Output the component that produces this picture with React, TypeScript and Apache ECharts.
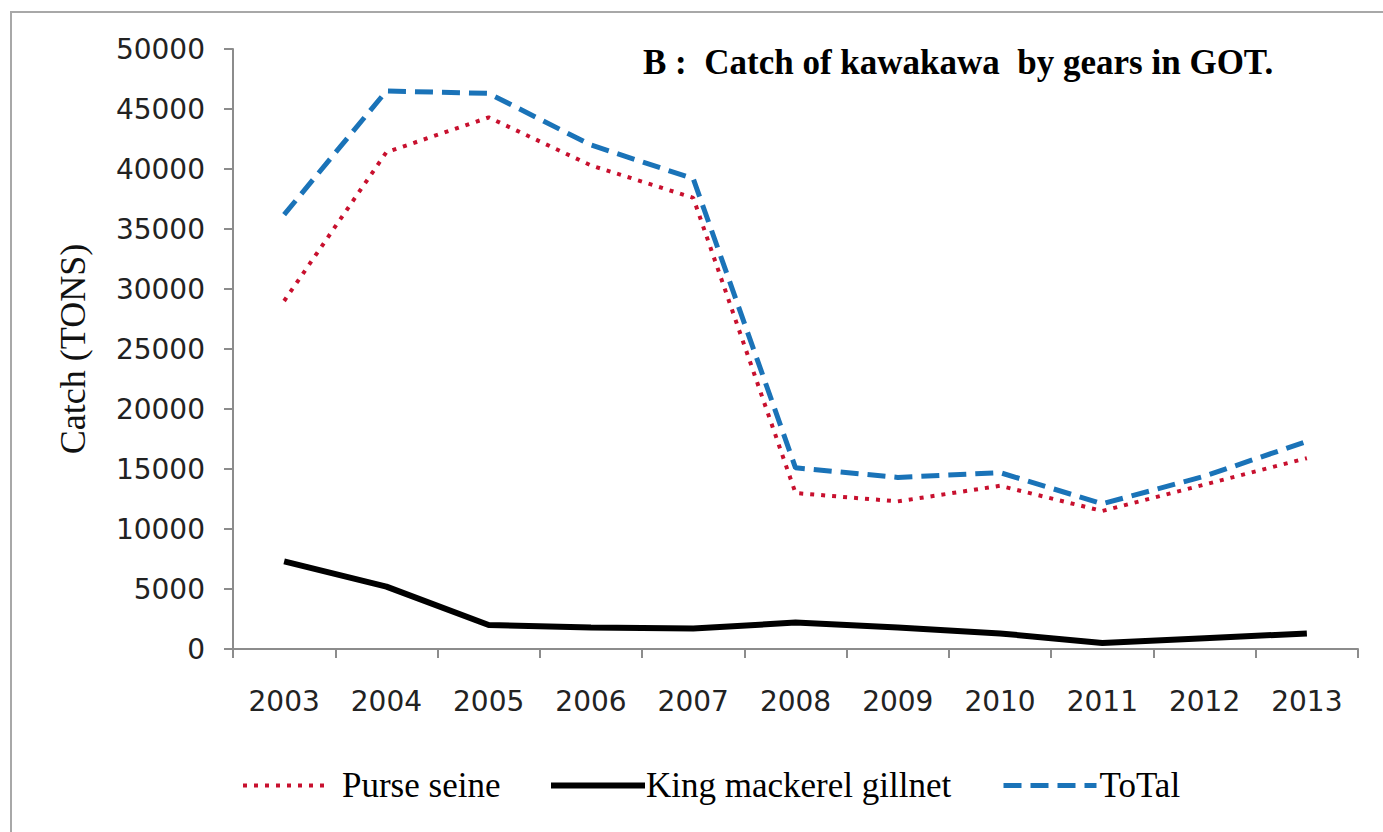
import React, { useEffect, useRef } from "react";
import * as echarts from "echarts";

const years = ["2003", "2004", "2005", "2006", "2007", "2008", "2009", "2010", "2011", "2012", "2013"];
const purseSeine = [29000, 41400, 44300, 40300, 37600, 13000, 12300, 13600, 11500, 13700, 15900];
const kingMackerelGillnet = [7300, 5200, 2000, 1800, 1700, 2200, 1800, 1300, 500, 900, 1300];
const total = [36200, 46500, 46300, 42000, 39200, 15100, 14300, 14700, 12100, 14400, 17300];

const seriesNames = ["Purse seine", "King mackerel gillnet", "ToTal"];
const titleText = "B :  Catch of kawakawa  by gears in GOT.";
const yAxisName = "Catch (TONS)";

export default function App() {
  const ref = useRef<HTMLDivElement>(null);

  useEffect(() => {
    if (!ref.current) return;
    const chart = echarts.init(ref.current, null, { renderer: "svg" });
    const serif = "'Liberation Serif', 'Times New Roman', serif";
    const sans = "'DejaVu Sans', Verdana, sans-serif";
    const legendText = { fontFamily: serif, fontSize: 35, color: "#000" };
    const legendCommon = {
      top: 763,
      itemHeight: 14,
      itemStyle: { opacity: 0 },
    };

    chart.setOption({
      animation: false,
      backgroundColor: "#fff",
      title: {
        text: titleText,
        left: 638,
        top: 40,
        textStyle: { fontFamily: serif, fontSize: 35, fontWeight: "bold", color: "#000" },
      },
      grid: { left: 233, right: 25, top: 49, bottom: 183, containLabel: false },
      legend: [
        {
          ...legendCommon,
          data: [seriesNames[0]],
          left: 236,
          itemWidth: 82,
          lineStyle: { width: 4 },
          textStyle: { ...legendText, padding: [0, 0, 0, 12] },
        },
        {
          ...legendCommon,
          data: [seriesNames[1]],
          left: 543,
          itemWidth: 94,
          lineStyle: { width: 6 },
          textStyle: { ...legendText, padding: [0, 0, 0, -4] },
        },
        {
          ...legendCommon,
          data: [seriesNames[2]],
          left: 996,
          itemWidth: 93,
          lineStyle: { width: 5 },
          textStyle: { ...legendText, padding: [0, 0, 0, -2] },
        },
      ],
      xAxis: {
        type: "category",
        data: years,
        boundaryGap: true,
        axisLine: { show: true, lineStyle: { color: "#8c8c8c", width: 2 } },
        axisTick: { show: true, length: 9, alignWithLabel: false, lineStyle: { color: "#8c8c8c", width: 2 } },
        axisLabel: { fontFamily: sans, fontSize: 28, color: "#222", margin: 38 },
        splitLine: { show: false },
      },
      yAxis: {
        type: "value",
        min: 0,
        max: 50000,
        interval: 5000,
        name: yAxisName,
        nameLocation: "middle",
        nameRotate: 90,
        nameGap: 142,
        nameTextStyle: { fontFamily: serif, fontSize: 36, color: "#111" },
        axisLine: { show: true, lineStyle: { color: "#8c8c8c", width: 2 } },
        axisTick: { show: true, length: 9, lineStyle: { color: "#8c8c8c", width: 2 } },
        axisLabel: {
          fontFamily: sans,
          fontSize: 28,
          color: "#222",
          margin: 28,
          formatter: (v: number) => String(v),
        },
        splitLine: { show: false },
      },
      graphic: [
        {
          type: "rect",
          shape: { x: 11, y: 12, width: 1420, height: 900 },
          style: { fill: "none", stroke: "#a8a8a8", lineWidth: 2 },
          silent: true,
        },
      ],
      series: [
        {
          name: seriesNames[0],
          type: "line",
          data: purseSeine,
          symbol: "none",
          itemStyle: { color: "#c8102e" },
          lineStyle: { color: "#c8102e", width: 4, type: [4, 7] },
          z: 3,
        },
        {
          name: seriesNames[1],
          type: "line",
          data: kingMackerelGillnet,
          symbol: "none",
          itemStyle: { color: "#000" },
          lineStyle: { color: "#000", width: 6 },
          z: 2,
        },
        {
          name: seriesNames[2],
          type: "line",
          data: total,
          symbol: "none",
          itemStyle: { color: "#1a73b8" },
          lineStyle: { color: "#1a73b8", width: 5, type: [18, 9] },
          z: 2,
        },
      ],
    });

    return () => chart.dispose();
  }, []);

  return (
    <div
      ref={ref}
      style={{ position: "absolute", left: 0, top: 0, width: 1383, height: 832, background: "#fff" }}
    />
  );
}
